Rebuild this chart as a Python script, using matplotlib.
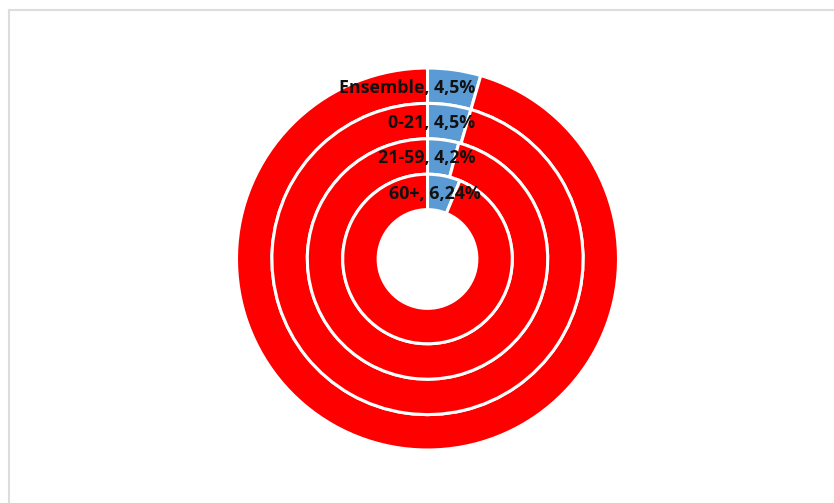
import matplotlib
matplotlib.use("Agg")
import matplotlib.pyplot as plt
from matplotlib.lines import Line2D

# rings from outside to inside
groups = ["Ensemble", "0-21", "21-59", "60+"]
shares = [4.5, 4.5, 4.2, 6.24]
share_text = ["4,5%", "4,5%", "4,2%", "6,24%"]

BLUE = "#5B9BD5"
RED = "#FF0000"

W, H = 834, 503
fig = plt.figure(figsize=(W / 100, H / 100), dpi=100)
fig.patch.set_facecolor("white")

# light chart-area frame (left and top edges visible)
fig.add_artist(Line2D([9 / W, 9 / W], [0, 1 - 10 / H], transform=fig.transFigure,
                      color="#dddddd", linewidth=1.5))
fig.add_artist(Line2D([9 / W, 1], [1 - 10 / H, 1 - 10 / H], transform=fig.transFigure,
                      color="#dddddd", linewidth=1.5))

ax = fig.add_axes([236 / W, (H - 450) / H, 383 / W, 382 / H])

hole = 0.2585
ring_w = (1 - hole) / len(groups)

for i, (g, s, txt) in enumerate(zip(groups, shares, share_text)):
    r = 1 - i * ring_w
    ax.pie([s, 100 - s], radius=r, startangle=90, counterclock=False,
           colors=[BLUE, RED],
           wedgeprops=dict(width=ring_w, edgecolor="white", linewidth=2.2))
    mid = r - ring_w / 2
    xr = 0.277 if g == "60+" else 0.25
    ax.text(xr, mid - 0.01, "%s, %s" % (g, txt), ha="right", va="center",
            fontsize=12.8, fontweight="bold", family=["Open Sans", "DejaVu Sans"],
            color="#111111")

ax.set_xlim(-1, 1)
ax.set_ylim(-1, 1)
ax.set_aspect("equal")
ax.axis("off")

fig.savefig("out.png", dpi=100)
